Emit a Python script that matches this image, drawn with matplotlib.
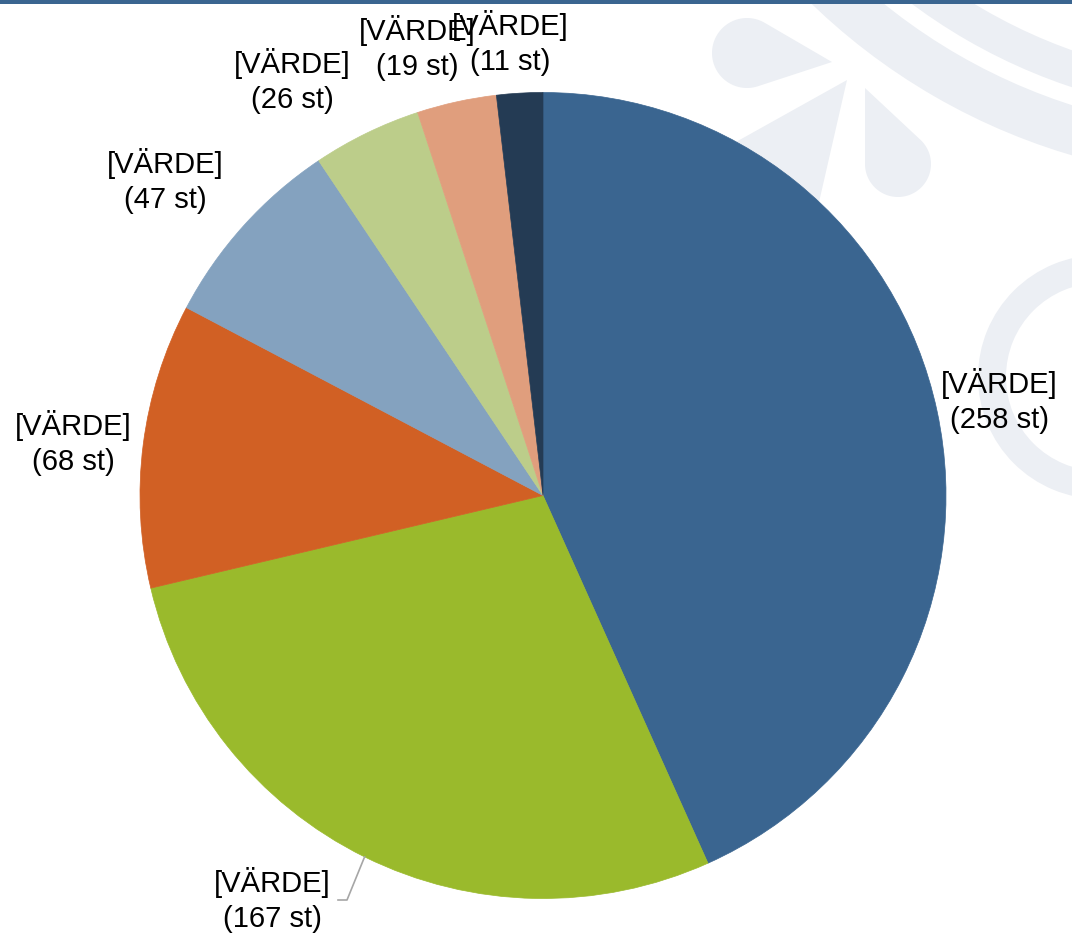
import numpy as np
import matplotlib.pyplot as plt
from matplotlib.patches import Wedge, Polygon, Rectangle

# data
counts = [258, 167, 68, 47, 26, 19, 11]
labels = ['[VÄRDE]'] * len(counts)
colors = ['#3A6590', '#9ABA2C', '#D16024', '#84A2BF', '#BCCD8A', '#E09E7D', '#243B54']

# label placement (pixel coords, y from top)
label_pos = [(999, 401), (272, 900), (73, 443), (165, 181), (292, 81), (417, 48), (510, 43)]

W, H = 1072, 933
wm = '#ECEFF4'

fig = plt.figure(figsize=(W / 100, H / 100), dpi=100)
ax = fig.add_axes([0, 0, 1, 1])


def fy(y):
    return H - y


def teardrop(cx, cy, r, tx, ty):
    # circle (cx, cy, r) with a pointed tip at (tx, ty), screen coords
    cy, ty = fy(cy), fy(ty)
    d = np.hypot(tx - cx, ty - cy)
    base = np.arctan2(ty - cy, tx - cx)
    a = np.arccos(r / d)
    th = np.linspace(base + a, base + 2 * np.pi - a, 80)
    pts = [(tx, ty)] + [(cx + r * np.cos(t), cy + r * np.sin(t)) for t in th]
    return Polygon(pts, closed=True, facecolor=wm, edgecolor='none', zorder=0)


# background watermark
ax.add_patch(Wedge((1250, fy(-450)), 631, 210, 270, width=48, facecolor=wm, edgecolor='none', zorder=0))
ax.add_patch(Wedge((1250, fy(-450)), 566, 210, 270, width=35, facecolor=wm, edgecolor='none', zorder=0))
ax.add_patch(Wedge((1100, fy(377)), 122, 0, 360, width=28, facecolor=wm, edgecolor='none', zorder=0))
ax.add_patch(teardrop(747, 53, 35, 832, 62))
ax.add_patch(teardrop(898, 164, 33, 865, 88))
ax.add_patch(teardrop(751, 208, 65, 847, 80))

wedges, _ = ax.pie(counts, colors=colors, startangle=90, counterclock=False,
                   center=(543, fy(495.5)), radius=403,
                   wedgeprops=dict(linewidth=0))
for w in wedges:
    w.set_edgecolor(w.get_facecolor())
    w.set_linewidth(0.5)

for i, (lab, v) in enumerate(zip(labels, counts)):
    x, y = label_pos[i]
    ax.text(x, fy(y), f'{lab}\n({v} st)', ha='center', va='center',
            fontsize=21, family='Liberation Sans', linespacing=1.3, zorder=5)

# leader line for the 167 label
w = wedges[1]
mid = np.deg2rad((w.theta1 + w.theta2) / 2)
ex = 543 + 403 * np.cos(mid)
ey = fy(495.5) + 403 * np.sin(mid)
lx, ly = label_pos[1]
ax.plot([lx + 66, lx + 75, ex], [fy(ly), fy(ly), ey], color='#A6A6A6', lw=1.2, zorder=4)

# top border
ax.add_patch(Rectangle((0, H - 3.5), W, 3.5, facecolor='#3A6590', edgecolor='none', zorder=6))

ax.set_xlim(0, W)
ax.set_ylim(0, H)
ax.set_aspect('auto')
ax.axis('off')

fig.savefig('out.png', dpi=100)
